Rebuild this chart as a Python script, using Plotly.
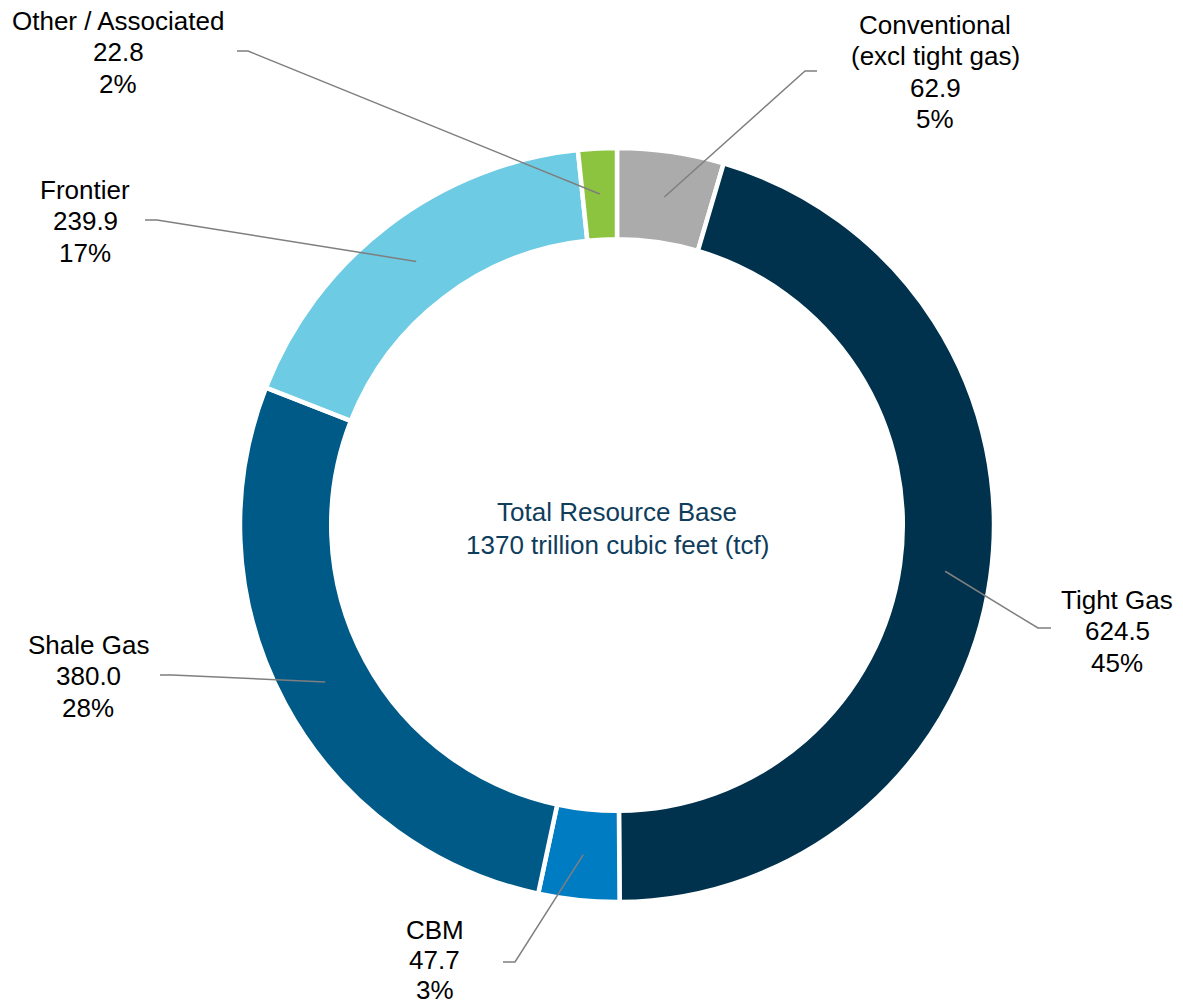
import math
import plotly.graph_objects as go

# ---- data ----
categories = ["Conventional", "Tight Gas", "CBM", "Shale Gas", "Frontier", "Other / Associated"]
label_names = [["Conventional", "(excl tight gas)"], ["Tight Gas"], ["CBM"], ["Shale Gas"], ["Frontier"], ["Other / Associated"]]
values = [62.9, 624.5, 47.7, 380.0, 239.9, 22.8]
percents = ["5%", "45%", "3%", "28%", "17%", "2%"]
center_lines = ["Total Resource Base", "1370 trillion cubic feet (tcf)"]

colors = ["#ABABAB", "#00324D", "#007CC3", "#005A87", "#6DCBE3", "#8CC43F"]

# ---- layout constants (pixels) ----
W, H = 1183, 1006
CX, CY, R = 617, 525, 377
HOLE = 0.758
FONT = "Liberation Sans, Arial, sans-serif"

# label placement: (center x, first-line y, line spacing), leader elbow and end points
label_pos = [(935, 25, 31.3), (1117, 600, 31.3), (435, 930, 30.0), (88, 645, 31.3), (85, 190, 31.3), (118, 21, 31.3)]
elbows = [((805, 71), (817, 71)),
          ((1038, 628), (1051, 628)),
          ((515, 962), (503, 962)),
          ((172, 675), (160, 675)),
          ((157, 220), (145, 220)),
          ((248, 51), (237, 51))]


def px(x):
    return x / W


def py(y):
    return 1 - y / H


fig = go.Figure(go.Pie(
    labels=categories,
    values=values,
    sort=False,
    direction="clockwise",
    rotation=0,
    hole=HOLE,
    marker=dict(colors=colors, line=dict(color="white", width=4.5)),
    textinfo="none",
    hoverinfo="skip",
    showlegend=False,
    domain=dict(x=[px(CX - R), px(CX + R)], y=[py(CY + R), py(CY - R)]),
))

annotations = []
shapes = []
total = sum(values)
cum = 0.0
rmid = R * (1 + HOLE) / 2
for i, v in enumerate(values):
    mid = (cum + v / 2) / total
    cum += v
    ang = 2 * math.pi * mid
    sx = CX + rmid * math.sin(ang)
    sy = CY - rmid * math.cos(ang)
    (ex, ey), (tx, ty) = elbows[i]
    path = f"M {px(sx)} {py(sy)} L {px(ex)} {py(ey)} L {px(tx)} {py(ty)}"
    shapes.append(dict(type="path", xref="paper", yref="paper", path=path,
                       line=dict(color="#7F7F7F", width=1.5)))
    lines = label_names[i] + [f"{v:.1f}", percents[i]]
    lx, ly, sp = label_pos[i]
    for k, t in enumerate(lines):
        annotations.append(dict(x=px(lx), y=py(ly + k * sp), xref="paper", yref="paper",
                                text=t, showarrow=False, xanchor="center", yanchor="middle",
                                font=dict(family=FONT, size=26, color="#000000")))

for k, t in enumerate(center_lines):
    annotations.append(dict(x=px(CX), y=py(512 + k * 33), xref="paper", yref="paper",
                            text=t, showarrow=False, xanchor="center", yanchor="middle",
                            font=dict(family=FONT, size=26, color="#0F3D5C")))

fig.update_layout(
    width=W, height=H,
    margin=dict(l=0, r=0, t=0, b=0),
    paper_bgcolor="white",
    plot_bgcolor="white",
    annotations=annotations,
    shapes=shapes,
)

fig.write_html("out.html", config={"displayModeBar": False},
               post_script="document.body.style.margin='0';document.body.style.overflow='hidden';")
